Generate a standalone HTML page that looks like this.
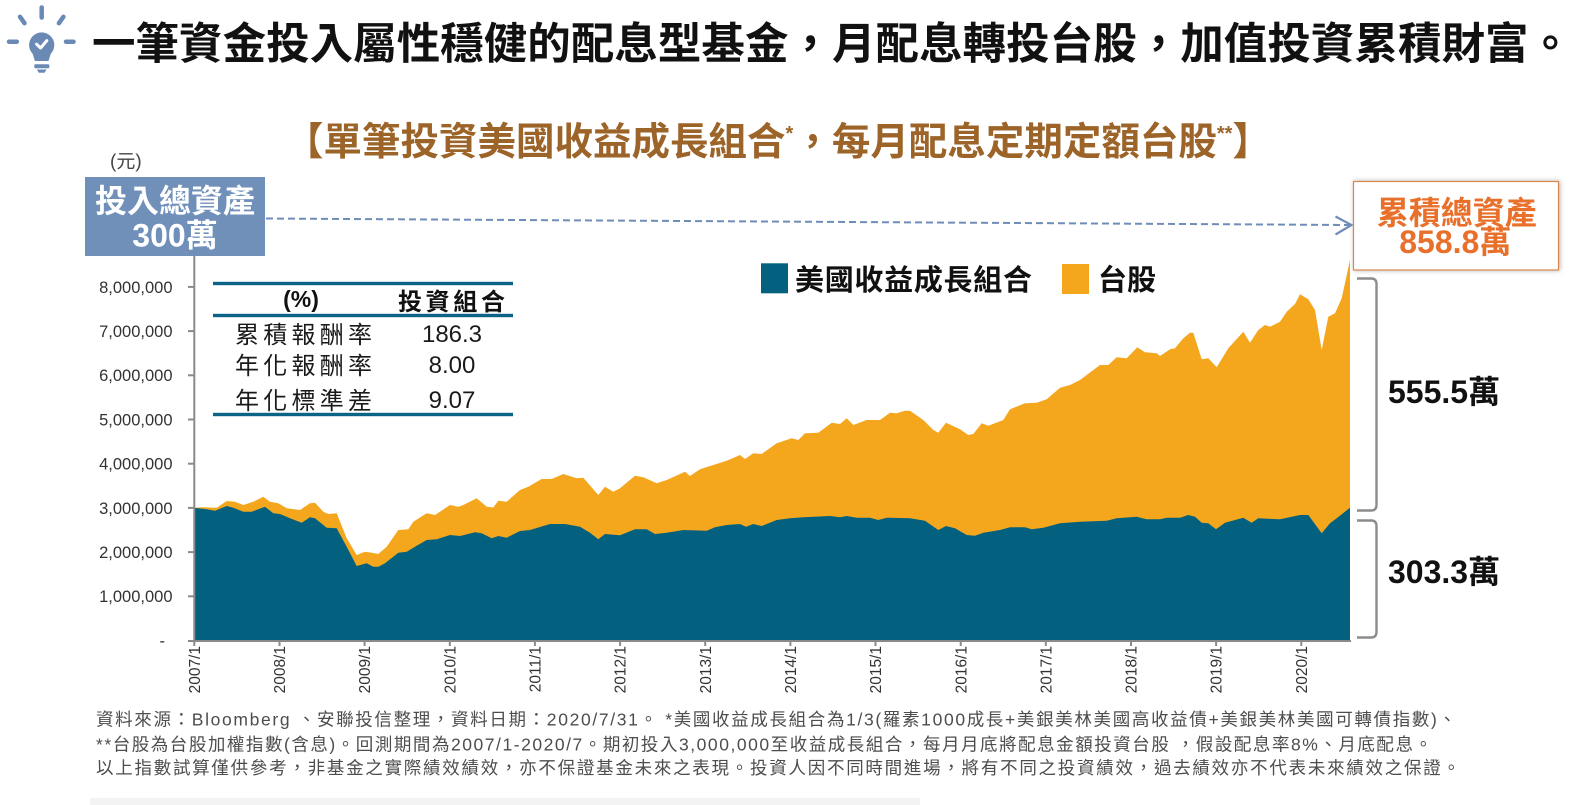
<!DOCTYPE html>
<html><head><meta charset="utf-8"><style>
html,body{margin:0;padding:0;background:#fff;}
svg{display:block;}
text{font-family:"Liberation Sans","Noto Sans CJK TC",sans-serif;}
</style></head><body>
<svg width="1583" height="805" viewBox="0 0 1583 805" xmlns="http://www.w3.org/2000/svg">
<defs>
<filter id="sh" x="-10%" y="-20%" width="120%" height="140%">
<feDropShadow dx="1" dy="0" stdDeviation="2.5" flood-color="#777" flood-opacity="0.55"/>
</filter>
</defs>
<rect width="1583" height="805" fill="#fff"/>

<!-- icon -->
<g stroke="#6a8ab5" stroke-width="4.5" stroke-linecap="round" fill="none">
<line x1="41.7" y1="7.5" x2="41.7" y2="17.5"/>
<line x1="20" y1="16.8" x2="24.5" y2="23.2"/>
<line x1="63.4" y1="16.8" x2="58.9" y2="23.2"/>
<line x1="9" y1="41.7" x2="16.8" y2="41.7"/>
<line x1="66" y1="41.7" x2="73.5" y2="41.7"/>
</g>
<g fill="#6a8ab5">
<circle cx="41.7" cy="45" r="12.6"/>
<path d="M31.5,50 L51.9,50 L48.5,61 L34.9,61 Z"/>
<rect x="34.3" y="64.3" width="15" height="4" rx="1"/>
<path d="M36.7,69.5 L46.7,69.5 L44.5,72.8 L38.9,72.8 Z"/>
</g>
<polyline points="36.6,44.2 40.6,48 46.8,40.6" fill="none" stroke="#fff" stroke-width="3" stroke-linecap="round" stroke-linejoin="round"/>

<!-- title -->
<text x="92" y="59" font-size="43.5" font-weight="bold" fill="#111" textLength="1480" lengthAdjust="spacing">一筆資金投入屬性穩健的配息型基金，月配息轉投台股，加值投資累積財富。</text>

<!-- subtitle -->
<text x="285" y="155" font-size="38.5" font-weight="bold" fill="#9c6428">【單筆投資美國收益成長組合<tspan font-size="20" dy="-15">*</tspan><tspan dy="15">，每月配息定期定額台股</tspan><tspan font-size="20" dy="-15">**</tspan><tspan dy="15">】</tspan></text>

<!-- (元) -->
<text x="110" y="167.7" font-size="19" fill="#444">(元)</text>

<!-- chart areas -->
<path fill="#f4a71d" d="M194.3,640.5 L194.3,507.7 L203.3,507.3 L216.7,507.7 L226.7,501 L235,501.7 L243.3,505 L253.3,501.7 L263.3,496.7 L270,501.7 L278.3,503.3 L286.7,508.3 L300,510 L310,503.3 L315,502.7 L323.3,511.7 L328.3,514 L336.7,513.3 L346.7,538.3 L356.7,555 L365,551.7 L371.7,552.7 L378.3,554 L386.7,546.7 L398.3,530 L408.3,529.3 L413.3,521.7 L426.7,513.3 L435,515 L450,505 L458.3,506.7 L463.3,505 L476.7,498.3 L486.7,506.7 L493.3,507.5 L498.3,500.7 L506.7,501.7 L520,490 L528.3,486.7 L541.7,479 L551.7,479 L563.3,474 L576.7,478.3 L583.3,477.7 L598.3,495 L605,486.7 L613.3,491.7 L620,488.3 L635,475.7 L643.3,477.3 L656.7,483.3 L666.7,480 L685,471.7 L690,476 L700,469.3 L713.3,465 L726.7,460.7 L740,455 L745,459 L753.3,453.3 L761.7,454 L776.7,443.3 L791.7,438.3 L798.3,440 L805,433.3 L818.3,432.7 L831.7,422.7 L840,424 L846.7,418.3 L853.3,425 L866.7,420 L880,420 L890,412.7 L896.7,413.3 L905,410.7 L910,410.7 L923.3,420 L933.3,430 L938.3,432.7 L946,422.7 L960,429.3 L968.3,435 L973.3,434 L981.7,423.3 L988.3,425.7 L1003.3,420 L1010,409.3 L1025,403.3 L1036.7,402.7 L1046.7,399.3 L1060,387.7 L1070,385 L1080,380 L1100,365 L1108.3,365 L1116.7,357.3 L1126.7,358.3 L1137.3,347.3 L1145,352.3 L1156.7,353.3 L1160,356 L1170,349.3 L1175,348.3 L1183.3,338.3 L1190,332.7 L1193.3,332.7 L1201.7,359.3 L1208.3,358.3 L1216.7,367.3 L1228.3,348.3 L1243.3,331.7 L1250,342.7 L1258.3,330 L1265,325 L1270,326.7 L1280,321.7 L1286.7,311.7 L1295,304 L1300,294.3 L1308.3,299.3 L1315,310 L1321.7,350 L1328.3,316.7 L1335,313.3 L1341.7,298.3 L1350,260 L1350,640.5 Z"/>
<path fill="#03617f" d="M194.3,640.5 L194.3,507.7 L206.7,509.3 L215,510.7 L226.7,506 L233.3,507.7 L243.3,511.7 L251.7,511.7 L265,506.7 L273.3,513.3 L280,514 L290,518.3 L301.7,522.7 L310,517.3 L315,518.3 L326.7,527.7 L336.7,528.3 L346.7,546.7 L356.7,566 L366.7,563.3 L373.3,566.7 L378.3,566.7 L385,563.3 L398.3,552.7 L406.7,551.7 L416.7,545.7 L426.7,540 L436.7,539.3 L450,535 L460,536 L475,532.3 L481.7,533.3 L491.7,538.3 L498.3,536 L506.7,537.7 L520,531 L530,530 L550,524 L565,524 L580,526.7 L590,532.7 L598.3,539.3 L605,534 L620,535.3 L635,529.3 L646.7,529.3 L655,534 L666.7,532.7 L683.3,530 L706.7,530.7 L715,527.3 L726.7,525 L740,524 L746,526.7 L753.3,524 L761.7,526 L776.7,520 L790,518.3 L803.3,517.3 L830,516 L840,517.3 L846.7,516 L856.7,517.7 L870,517.7 L878.3,520 L886.7,517.7 L910,518.3 L925,520.7 L938.3,530 L946,526 L955,528.3 L966.7,535 L975,535.7 L983.3,532.7 L1000,530 L1010,527.3 L1025,527.3 L1031.7,529.3 L1043.3,527.7 L1060,523.3 L1080,521.7 L1106.7,520.7 L1116.7,518.3 L1136.7,516.7 L1146.7,519.3 L1160,519.3 L1166.7,517.7 L1180,517.7 L1188.3,515 L1195,516.7 L1201.7,522.7 L1208.3,523.3 L1216,529.3 L1225,522.7 L1243.3,517.7 L1251.7,522.7 L1258.3,518.3 L1280,519.3 L1300,515 L1308.3,515 L1321.7,533.3 L1330,523.3 L1336.7,518.3 L1350,507.7 L1350,640.5 Z"/>

<!-- axes -->
<g stroke="#8a8a8a" stroke-width="2" fill="none">
<line x1="194.3" y1="256" x2="194.3" y2="641.5"/>
<line x1="188" y1="641" x2="1351" y2="641"/>
<line x1="188" y1="286.9" x2="194.3" y2="286.9"/>
<line x1="188" y1="331.1" x2="194.3" y2="331.1"/>
<line x1="188" y1="375.3" x2="194.3" y2="375.3"/>
<line x1="188" y1="419.5" x2="194.3" y2="419.5"/>
<line x1="188" y1="463.7" x2="194.3" y2="463.7"/>
<line x1="188" y1="507.9" x2="194.3" y2="507.9"/>
<line x1="188" y1="552.1" x2="194.3" y2="552.1"/>
<line x1="188" y1="596.3" x2="194.3" y2="596.3"/>
<line x1="194.3" y1="641" x2="194.3" y2="646"/>
<line x1="279.5" y1="641" x2="279.5" y2="646"/>
<line x1="364.6" y1="641" x2="364.6" y2="646"/>
<line x1="449.8" y1="641" x2="449.8" y2="646"/>
<line x1="534.9" y1="641" x2="534.9" y2="646"/>
<line x1="620.1" y1="641" x2="620.1" y2="646"/>
<line x1="705.2" y1="641" x2="705.2" y2="646"/>
<line x1="790.4" y1="641" x2="790.4" y2="646"/>
<line x1="875.5" y1="641" x2="875.5" y2="646"/>
<line x1="960.7" y1="641" x2="960.7" y2="646"/>
<line x1="1045.8" y1="641" x2="1045.8" y2="646"/>
<line x1="1131" y1="641" x2="1131" y2="646"/>
<line x1="1216.1" y1="641" x2="1216.1" y2="646"/>
<line x1="1301.3" y1="641" x2="1301.3" y2="646"/>
</g>

<!-- y labels -->
<g font-size="16.5" fill="#333" text-anchor="end">
<text x="172.5" y="292.8">8,000,000</text>
<text x="172.5" y="337">7,000,000</text>
<text x="172.5" y="381.2">6,000,000</text>
<text x="172.5" y="425.4">5,000,000</text>
<text x="172.5" y="469.6">4,000,000</text>
<text x="172.5" y="513.8">3,000,000</text>
<text x="172.5" y="558">2,000,000</text>
<text x="172.5" y="602.2">1,000,000</text>
<text x="165" y="646.4">-</text>
</g>

<!-- x labels -->
<g font-size="15.5" fill="#333" text-anchor="end">
<text transform="translate(199.9,646) rotate(-90)">2007/1</text>
<text transform="translate(285.1,646) rotate(-90)">2008/1</text>
<text transform="translate(370.2,646) rotate(-90)">2009/1</text>
<text transform="translate(455.4,646) rotate(-90)">2010/1</text>
<text transform="translate(540.5,646) rotate(-90)">2011/1</text>
<text transform="translate(625.7,646) rotate(-90)">2012/1</text>
<text transform="translate(710.8,646) rotate(-90)">2013/1</text>
<text transform="translate(796,646) rotate(-90)">2014/1</text>
<text transform="translate(881.1,646) rotate(-90)">2015/1</text>
<text transform="translate(966.3,646) rotate(-90)">2016/1</text>
<text transform="translate(1051.4,646) rotate(-90)">2017/1</text>
<text transform="translate(1136.6,646) rotate(-90)">2018/1</text>
<text transform="translate(1221.7,646) rotate(-90)">2019/1</text>
<text transform="translate(1306.9,646) rotate(-90)">2020/1</text>
</g>

<!-- left box -->
<rect x="85" y="177" width="180" height="79" fill="#7090ba"/>
<text x="175" y="212" font-size="32" font-weight="bold" fill="#fff" text-anchor="middle">投入總資產</text>
<text x="175" y="246.5" font-size="32" font-weight="bold" fill="#fff" text-anchor="middle">300萬</text>

<!-- dashed arrow -->
<line x1="266" y1="218.5" x2="1349" y2="225" stroke="#6f8db8" stroke-width="2" stroke-dasharray="7 4"/>
<polyline points="1335.5,216.5 1351.5,225 1335.5,234.5" fill="none" stroke="#6f8db8" stroke-width="2.2"/>

<!-- right box -->
<rect x="1353.5" y="181.5" width="205" height="88.5" fill="#fff" stroke="#d9874f" stroke-width="1.2" filter="url(#sh)"/>
<text x="1456.7" y="224" font-size="32" font-weight="bold" fill="#e8702b" text-anchor="middle">累積總資產</text>
<text x="1455.3" y="253.2" font-size="32" font-weight="bold" fill="#e8702b" text-anchor="middle">858.8萬</text>

<!-- braces -->
<g fill="none" stroke="#8c8c8c" stroke-width="2.4" stroke-linejoin="round">
<path d="M1357,278.5 L1372,278.5 Q1376.5,279 1376.5,284 L1376.5,505 Q1376.5,510.5 1371,510.5 L1357,510.5"/>
<path d="M1357,520.5 L1372,520.5 Q1376.5,521 1376.5,526 L1376.5,632 Q1376.5,637.5 1371,637.5 L1357,637.5"/>
</g>
<text x="1388" y="403" font-size="32" font-weight="bold" fill="#111">555.5萬</text>
<text x="1388" y="583" font-size="32" font-weight="bold" fill="#111">303.3萬</text>

<!-- legend -->
<rect x="761" y="263.3" width="27" height="30" fill="#03617f"/>
<text x="795" y="290" font-size="29" font-weight="bold" fill="#111" textLength="237" lengthAdjust="spacing">美國收益成長組合</text>
<rect x="1062" y="264" width="27" height="30" fill="#f4a71d"/>
<text x="1098" y="290" font-size="29" font-weight="bold" fill="#111">台股</text>

<!-- table -->
<rect x="213" y="281.8" width="300" height="3.4" fill="#0b6485"/>
<rect x="213" y="313.8" width="300" height="3.4" fill="#0b6485"/>
<rect x="213" y="412.8" width="300" height="3.4" fill="#0b6485"/>
<text x="301" y="307" font-size="23" font-weight="bold" fill="#111" text-anchor="middle">(%)</text>
<text x="398" y="310" font-size="24" font-weight="bold" fill="#111" textLength="107" lengthAdjust="spacing">投資組合</text>
<g font-size="24" fill="#1a1a1a">
<text x="235" y="342.8" textLength="137" lengthAdjust="spacing">累積報酬率</text>
<text x="235" y="374.1" textLength="137" lengthAdjust="spacing">年化報酬率</text>
<text x="235" y="409.1" textLength="137" lengthAdjust="spacing">年化標準差</text>
</g>
<g font-size="24" fill="#1a1a1a" text-anchor="middle">
<text x="452" y="342">186.3</text>
<text x="452" y="373">8.00</text>
<text x="452" y="408">9.07</text>
</g>

<!-- footnote -->
<g font-size="17.5" fill="#4d4d4d">
<text x="96" y="725.7" textLength="1360" lengthAdjust="spacing">資料來源：Bloomberg 、安聯投信整理，資料日期：2020/7/31。 *美國收益成長組合為1/3(羅素1000成長+美銀美林美國高收益債+美銀美林美國可轉債指數)、</text>
<text x="96" y="750.7" textLength="1336" lengthAdjust="spacing">**台股為台股加權指數(含息)。回測期間為2007/1-2020/7。期初投入3,000,000至收益成長組合，每月月底將配息金額投資台股 ，假設配息率8%、月底配息。</text>
<text x="96" y="774" textLength="1364" lengthAdjust="spacing">以上指數試算僅供參考，非基金之實際績效績效，亦不保證基金未來之表現。投資人因不同時間進場，將有不同之投資績效，過去績效亦不代表未來績效之保證。</text>
</g>
<rect x="90" y="798" width="830" height="7" fill="#f3f3f3"/>
</svg>
</body></html>
